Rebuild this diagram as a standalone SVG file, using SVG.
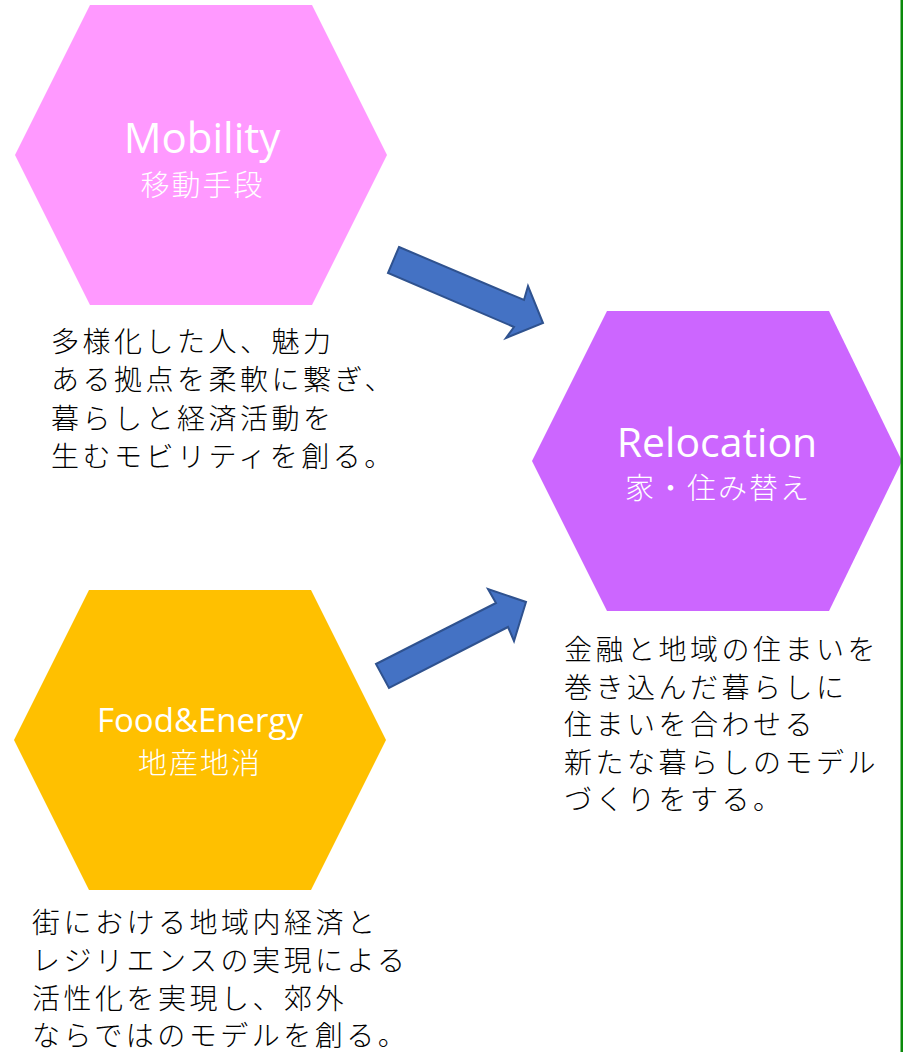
<svg xmlns="http://www.w3.org/2000/svg" width="903" height="1052" viewBox="0 0 903 1052">
  <style>
    .title { font-family: "Open Sans", "Noto Sans", sans-serif; fill: #ffffff; text-anchor: middle; }
    .sub { font-family: "Noto Sans CJK JP", "Noto Sans", sans-serif; font-weight: 300; fill: #ffffff; font-size: 29px; letter-spacing: 2px; text-anchor: middle; }
    .body { font-family: "Noto Sans CJK JP", "Noto Sans", sans-serif; font-weight: 300; fill: #000000; font-size: 28px; letter-spacing: 3.5px; }
    .arrow { fill: #4472C4; stroke: #2F528F; stroke-width: 2; stroke-linejoin: miter; }
  </style>
  <rect x="0" y="0" width="903" height="1052" fill="#ffffff"/>

  <g id="mobility">
    <polygon points="90,5 312,5 387,155 312,305 90,305 15,155" fill="#FF99FF"/>
    <text class="title" x="202" y="153" font-size="42">Mobility</text>
    <text class="sub" x="202.5" y="196">移動手段</text>
  </g>

  <g id="relocation">
    <polygon points="607,311 829,311 902,461 829,611 607,611 532,461" fill="#CC66FF"/>
    <text class="title" x="717" y="457" font-size="41">Relocation</text>
    <text class="sub" x="718" y="499">家・住み替え</text>
  </g>

  <g id="food-energy">
    <polygon points="89,590 311,590 386,740 311,890 89,890 14,740" fill="#FFC000"/>
    <text class="title" x="200" y="732" font-size="33">Food&amp;Energy</text>
    <text class="sub" x="200" y="774">地産地消</text>
  </g>

  <g id="mobility-text">
    <text class="body" x="51" y="352">多様化した人、魅力</text>
    <text class="body" x="51" y="390.3">ある拠点を柔軟に繋ぎ、</text>
    <text class="body" x="51" y="428.7">暮らしと経済活動を</text>
    <text class="body" x="51" y="467">生むモビリティを創る。</text>
  </g>

  <g id="relocation-text">
    <text class="body" x="564" y="660">金融と地域の住まいを</text>
    <text class="body" x="564" y="697.5">巻き込んだ暮らしに</text>
    <text class="body" x="564" y="735">住まいを合わせる</text>
    <text class="body" x="564" y="772.5">新たな暮らしのモデル</text>
    <text class="body" x="564" y="810">づくりをする。</text>
  </g>

  <g id="food-energy-text">
    <text class="body" x="32" y="933">街における地域内経済と</text>
    <text class="body" x="32" y="971">レジリエンスの実現による</text>
    <text class="body" x="32" y="1009">活性化を実現し、郊外</text>
    <text class="body" x="32" y="1046">ならではのモデルを創る。</text>
  </g>

  <g id="connectors">
    <polygon class="arrow" points="399,247 524,300 528,286 543,323 506,338 514,327 388,273"/>
    <polygon class="arrow" points="376,664 496,603 488,589 526,602 514,641 508,627 389,688"/>
  </g>

  <rect id="border-line" x="900.5" y="0" width="2.5" height="1052" fill="#0B8A0B"/>
</svg>
